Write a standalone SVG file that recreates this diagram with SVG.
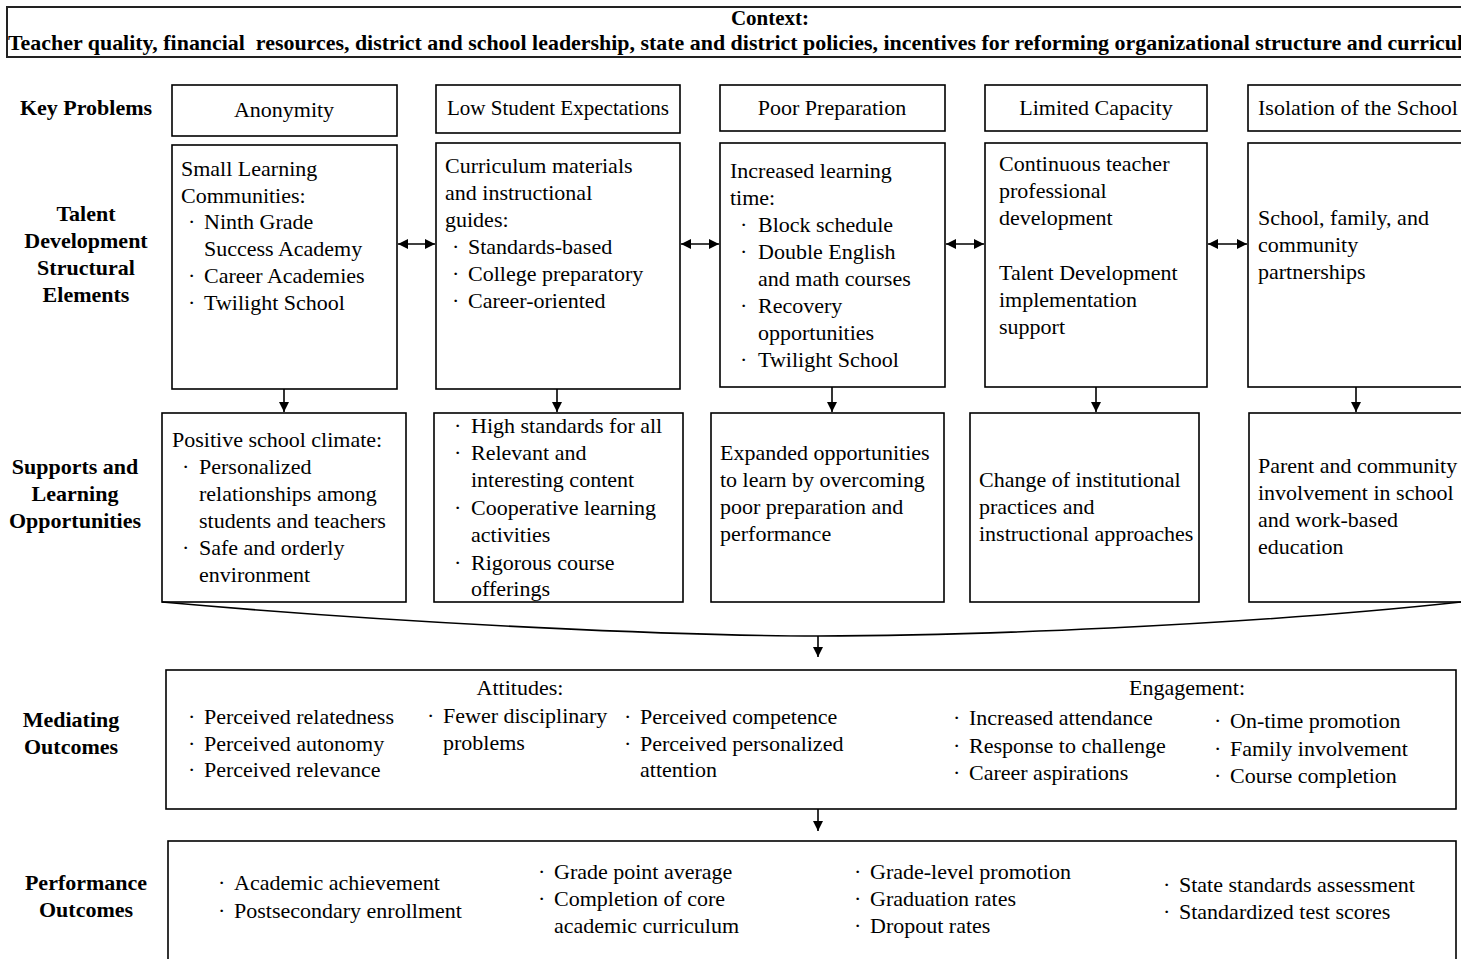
<svg xmlns="http://www.w3.org/2000/svg" width="1461" height="959" viewBox="0 0 1461 959">
<style>
  text { font-family: "Liberation Serif", "Times New Roman", serif; fill: #000; }
  .t { font-size: 22px; }
  .lbl { font-size: 22px; font-weight: bold; text-anchor: middle; }
  .hdr { font-size: 21px; font-weight: bold; }
  .box { fill: #fff; stroke: #000; stroke-width: 1.6; }
  .ctx { fill: #fff; stroke: #222; stroke-width: 2; }
  .c { text-anchor: middle; }
  .conn { fill: none; stroke: #000; stroke-width: 1.6; }
</style>
<defs>
  <marker id="ah" viewBox="0 0 10 10" refX="10" refY="5" markerWidth="10" markerHeight="10" markerUnits="userSpaceOnUse" orient="auto-start-reverse">
    <path d="M0,0 L10,5 L0,10 Z" fill="#000"/>
  </marker>
</defs>
<rect width="1461" height="959" fill="#fff"/>

<g id="context">
  <rect class="ctx" x="7" y="7" width="1470" height="50"/>
  <text class="hdr c" x="770" y="25">Context:</text>
  <text class="hdr" x="8" y="50" xml:space="preserve" textLength="1466" lengthAdjust="spacingAndGlyphs">Teacher quality, financial  resources, district and school leadership, state and district policies, incentives for reforming organizational structure and curricula</text>
</g>

<g id="row-labels">
  <text class="lbl" x="86" y="115">Key Problems</text>
  <text class="lbl"><tspan x="86" y="221">Talent</tspan><tspan x="86" y="248">Development</tspan><tspan x="86" y="275">Structural</tspan><tspan x="86" y="302">Elements</tspan></text>
  <text class="lbl"><tspan x="75" y="474">Supports and</tspan><tspan x="75" y="501">Learning</tspan><tspan x="75" y="528">Opportunities</tspan></text>
  <text class="lbl"><tspan x="71" y="727">Mediating</tspan><tspan x="71" y="754">Outcomes</tspan></text>
  <text class="lbl"><tspan x="86" y="890">Performance</tspan><tspan x="86" y="917">Outcomes</tspan></text>
</g>

<g id="kp-anonymity">
  <rect class="box" x="172" y="85" width="225" height="51"/>
  <text class="t c" x="284" y="117">Anonymity</text>
</g>
<g id="kp-low-expectations">
  <rect class="box" x="436" y="85" width="244" height="48"/>
  <text class="t c" x="558" y="115" textLength="222" lengthAdjust="spacingAndGlyphs">Low Student Expectations</text>
</g>
<g id="kp-poor-preparation">
  <rect class="box" x="720" y="85" width="225" height="46"/>
  <text class="t c" x="832" y="115">Poor Preparation</text>
</g>
<g id="kp-limited-capacity">
  <rect class="box" x="985" y="85" width="222" height="46"/>
  <text class="t c" x="1096" y="115">Limited Capacity</text>
</g>
<g id="kp-isolation">
  <rect class="box" x="1248" y="85" width="230" height="46"/>
  <text class="t" x="1258" y="115">Isolation of the School</text>
</g>

<g id="se-slc">
  <rect class="box" x="172" y="145" width="225" height="244"/>
  <text class="t"><tspan x="181" y="176">Small Learning</tspan><tspan x="181" y="203">Communities:</tspan>
  <tspan x="188" y="229">·</tspan><tspan x="204" y="229">Ninth Grade</tspan><tspan x="204" y="256">Success Academy</tspan>
  <tspan x="188" y="283">·</tspan><tspan x="204" y="283">Career Academies</tspan>
  <tspan x="188" y="310">·</tspan><tspan x="204" y="310">Twilight School</tspan></text>
</g>
<g id="se-curriculum">
  <rect class="box" x="436" y="143" width="244" height="246"/>
  <text class="t"><tspan x="445" y="173">Curriculum materials</tspan><tspan x="445" y="200">and instructional</tspan><tspan x="445" y="227">guides:</tspan>
  <tspan x="452" y="254">·</tspan><tspan x="468" y="254">Standards-based</tspan>
  <tspan x="452" y="281">·</tspan><tspan x="468" y="281">College preparatory</tspan>
  <tspan x="452" y="308">·</tspan><tspan x="468" y="308">Career-oriented</tspan></text>
</g>
<g id="se-learning-time">
  <rect class="box" x="720" y="143" width="225" height="244"/>
  <text class="t"><tspan x="730" y="178">Increased learning</tspan><tspan x="730" y="205">time:</tspan>
  <tspan x="740" y="232">·</tspan><tspan x="758" y="232">Block schedule</tspan>
  <tspan x="740" y="259">·</tspan><tspan x="758" y="259">Double English</tspan><tspan x="758" y="286">and math courses</tspan>
  <tspan x="740" y="313">·</tspan><tspan x="758" y="313">Recovery</tspan><tspan x="758" y="340">opportunities</tspan>
  <tspan x="740" y="367">·</tspan><tspan x="758" y="367">Twilight School</tspan></text>
</g>
<g id="se-professional-development">
  <rect class="box" x="985" y="143" width="222" height="244"/>
  <text class="t"><tspan x="999" y="171">Continuous teacher</tspan><tspan x="999" y="198">professional</tspan><tspan x="999" y="225">development</tspan>
  <tspan x="999" y="280">Talent Development</tspan><tspan x="999" y="307">implementation</tspan><tspan x="999" y="334">support</tspan></text>
</g>
<g id="se-partnerships">
  <rect class="box" x="1248" y="143" width="230" height="244"/>
  <text class="t"><tspan x="1258" y="225">School, family, and</tspan><tspan x="1258" y="252">community</tspan><tspan x="1258" y="279">partnerships</tspan></text>
</g>

<g id="sl-climate">
  <rect class="box" x="162" y="413" width="244" height="189"/>
  <text class="t"><tspan x="172" y="447">Positive school climate:</tspan>
  <tspan x="182" y="474">·</tspan><tspan x="199" y="474">Personalized</tspan><tspan x="199" y="501">relationships among</tspan><tspan x="199" y="528">students and teachers</tspan>
  <tspan x="182" y="555">·</tspan><tspan x="199" y="555">Safe and orderly</tspan><tspan x="199" y="582">environment</tspan></text>
</g>
<g id="sl-standards">
  <rect class="box" x="434" y="413" width="249" height="189"/>
  <text class="t"><tspan x="454" y="433">·</tspan><tspan x="471" y="433">High standards for all</tspan>
  <tspan x="454" y="460">·</tspan><tspan x="471" y="460">Relevant and</tspan><tspan x="471" y="487">interesting content</tspan>
  <tspan x="454" y="515">·</tspan><tspan x="471" y="515">Cooperative learning</tspan><tspan x="471" y="542">activities</tspan>
  <tspan x="454" y="570">·</tspan><tspan x="471" y="570">Rigorous course</tspan><tspan x="471" y="596">offerings</tspan></text>
</g>
<g id="sl-expanded">
  <rect class="box" x="711" y="413" width="233" height="189"/>
  <text class="t"><tspan x="720" y="460">Expanded opportunities</tspan><tspan x="720" y="487">to learn by overcoming</tspan><tspan x="720" y="514">poor preparation and</tspan><tspan x="720" y="541">performance</tspan></text>
</g>
<g id="sl-institutional">
  <rect class="box" x="970" y="413" width="229" height="189"/>
  <text class="t"><tspan x="979" y="487">Change of institutional</tspan><tspan x="979" y="514">practices and</tspan><tspan x="979" y="541">instructional approaches</tspan></text>
</g>
<g id="sl-parent">
  <rect class="box" x="1249" y="413" width="230" height="189"/>
  <text class="t"><tspan x="1258" y="473">Parent and community</tspan><tspan x="1258" y="500">involvement in school</tspan><tspan x="1258" y="527">and work-based</tspan><tspan x="1258" y="554">education</tspan></text>
</g>

<g id="mediating-outcomes">
  <rect class="box" x="166" y="670" width="1290" height="139"/>
  <text class="t c" x="520" y="695">Attitudes:</text>
  <text class="t c" x="1187" y="695">Engagement:</text>
  <text class="t">
    <tspan x="188" y="724">·</tspan><tspan x="204" y="724">Perceived relatedness</tspan>
    <tspan x="188" y="751">·</tspan><tspan x="204" y="751">Perceived autonomy</tspan>
    <tspan x="188" y="777">·</tspan><tspan x="204" y="777">Perceived relevance</tspan>
    <tspan x="427" y="723">·</tspan><tspan x="443" y="723">Fewer disciplinary</tspan><tspan x="443" y="750">problems</tspan>
    <tspan x="624" y="724">·</tspan><tspan x="640" y="724">Perceived competence</tspan>
    <tspan x="624" y="751">·</tspan><tspan x="640" y="751">Perceived personalized</tspan><tspan x="640" y="777">attention</tspan>
    <tspan x="953" y="725">·</tspan><tspan x="969" y="725">Increased attendance</tspan>
    <tspan x="953" y="753">·</tspan><tspan x="969" y="753">Response to challenge</tspan>
    <tspan x="953" y="780">·</tspan><tspan x="969" y="780">Career aspirations</tspan>
    <tspan x="1214" y="728">·</tspan><tspan x="1230" y="728">On-time promotion</tspan>
    <tspan x="1214" y="756">·</tspan><tspan x="1230" y="756">Family involvement</tspan>
    <tspan x="1214" y="783">·</tspan><tspan x="1230" y="783">Course completion</tspan>
  </text>
</g>

<g id="performance-outcomes">
  <rect class="box" x="168" y="841" width="1288" height="125"/>
  <text class="t">
    <tspan x="218" y="890">·</tspan><tspan x="234" y="890">Academic achievement</tspan>
    <tspan x="218" y="918">·</tspan><tspan x="234" y="918">Postsecondary enrollment</tspan>
    <tspan x="538" y="879">·</tspan><tspan x="554" y="879">Grade point average</tspan>
    <tspan x="538" y="906">·</tspan><tspan x="554" y="906">Completion of core</tspan><tspan x="554" y="933">academic curriculum</tspan>
    <tspan x="854" y="879">·</tspan><tspan x="870" y="879">Grade-level promotion</tspan>
    <tspan x="854" y="906">·</tspan><tspan x="870" y="906">Graduation rates</tspan>
    <tspan x="854" y="933">·</tspan><tspan x="870" y="933">Dropout rates</tspan>
    <tspan x="1163" y="892">·</tspan><tspan x="1179" y="892">State standards assessment</tspan>
    <tspan x="1163" y="919">·</tspan><tspan x="1179" y="919">Standardized test scores</tspan>
  </text>
</g>

<g id="connectors">
  <line class="conn" x1="398" y1="244" x2="435" y2="244" marker-start="url(#ah)" marker-end="url(#ah)"/>
  <line class="conn" x1="681" y1="244" x2="719" y2="244" marker-start="url(#ah)" marker-end="url(#ah)"/>
  <line class="conn" x1="946" y1="244" x2="984" y2="244" marker-start="url(#ah)" marker-end="url(#ah)"/>
  <line class="conn" x1="1208" y1="244" x2="1247" y2="244" marker-start="url(#ah)" marker-end="url(#ah)"/>
  <line class="conn" x1="284" y1="389" x2="284" y2="412" marker-end="url(#ah)"/>
  <line class="conn" x1="557" y1="389" x2="557" y2="412" marker-end="url(#ah)"/>
  <line class="conn" x1="832" y1="387" x2="832" y2="412" marker-end="url(#ah)"/>
  <line class="conn" x1="1096" y1="387" x2="1096" y2="412" marker-end="url(#ah)"/>
  <line class="conn" x1="1356" y1="387" x2="1356" y2="412" marker-end="url(#ah)"/>
  <path class="conn" d="M162,602 C420,625 690,636 818,636 C960,636 1240,626 1461,602"/>
  <line class="conn" x1="818" y1="636" x2="818" y2="657" marker-end="url(#ah)"/>
  <line class="conn" x1="818" y1="809" x2="818" y2="831" marker-end="url(#ah)"/>
</g>
</svg>
